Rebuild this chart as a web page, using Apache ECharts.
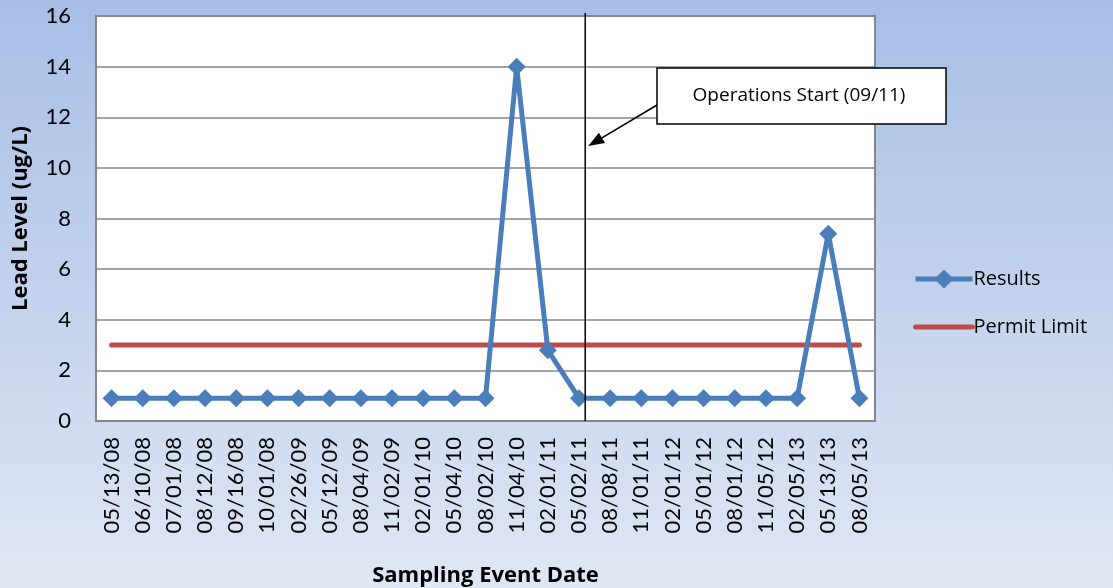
<!DOCTYPE html>
<html>
<head>
<meta charset="utf-8">
<script src="https://cdn.jsdelivr.net/npm/echarts@6/dist/echarts.min.js"></script>
<style>
  html, body { margin: 0; padding: 0; }
  #chart { width: 1113px; height: 588px; }
</style>
</head>
<body>
<div id="chart"></div>
<script>
const dates = ['05/13/08', '06/10/08', '07/01/08', '08/12/08', '09/16/08', '10/01/08', '02/26/09',
  '05/12/09', '08/04/09', '11/02/09', '02/01/10', '05/04/10', '08/02/10', '11/04/10', '02/01/11',
  '05/02/11', '08/08/11', '11/01/11', '02/01/12', '05/01/12', '08/01/12', '11/05/12', '02/05/13',
  '05/13/13', '08/05/13'];
const results = [0.9, 0.9, 0.9, 0.9, 0.9, 0.9, 0.9, 0.9, 0.9, 0.9, 0.9, 0.9, 0.9, 14, 2.8,
  0.9, 0.9, 0.9, 0.9, 0.9, 0.9, 0.9, 0.9, 7.4, 0.9];
const permitLimit = dates.map(() => 3);
const opsStartIndex = 15.2; // between 05/02/11 and 08/08/11

const font = 'Lato, "Open Sans", sans-serif';
const wideFont = '"Open Sans", Lato, sans-serif';
const chart = echarts.init(document.getElementById('chart'));

chart.setOption({
  backgroundColor: {
    type: 'linear', x: 0, y: 0, x2: 0, y2: 1,
    colorStops: [{offset: 0, color: '#a6bee6'}, {offset: 1, color: '#e0e7f4'}]
  },
  textStyle: {fontFamily: font},
  animation: false,
  grid: {
    left: 96, right: 238, top: 16, bottom: 167, outerBoundsMode: 'none',
    show: true, backgroundColor: '#fff', borderColor: '#868686', borderWidth: 2
  },
  legend: {
    orient: 'vertical', left: 913, top: 269, padding: 0,
    itemWidth: 57, itemHeight: 24, itemGap: 28,
    lineStyle: {width: 5},
    textStyle: {fontSize: 20, color: '#000', fontFamily: wideFont, padding: [0, 0, 0, -4]},
    data: ['Results', {name: 'Permit Limit', itemStyle: {opacity: 0}}]
  },
  xAxis: {
    type: 'category', data: dates,
    name: 'Sampling Event Date', nameLocation: 'middle', nameGap: 144,
    nameTextStyle: {fontSize: 22, fontWeight: 'bold', color: '#000', fontFamily: wideFont},
    axisLine: {show: false}, axisTick: {show: false},
    axisLabel: {rotate: 90, fontSize: 22, color: '#000', margin: 16, interval: 0}
  },
  yAxis: {
    type: 'value', min: 0, max: 16, interval: 2,
    name: 'Lead Level (ug/L)', nameLocation: 'middle', nameGap: 64,
    nameTextStyle: {fontSize: 22, fontWeight: 'bold', color: '#000', fontFamily: wideFont},
    axisLine: {show: false}, axisTick: {show: false},
    axisLabel: {fontSize: 22, color: '#000', margin: 25},
    splitLine: {lineStyle: {color: '#868686', width: 1.5}}
  },
  series: [
    {
      name: 'Results', type: 'line', data: results,
      symbol: 'diamond', symbolSize: 18,
      itemStyle: {color: '#4a7ebb'},
      lineStyle: {color: '#4a7ebb', width: 5}, z: 3
    },
    {
      name: 'Permit Limit', type: 'line', data: permitLimit,
      symbol: 'none',
      itemStyle: {color: '#be4b48'},
      lineStyle: {color: '#be4b48', width: 5, cap: 'round'}, z: 2
    }
  ]
});

// vertical "operations start" line, placed from the category axis
const p0 = chart.convertToPixel({xAxisIndex: 0}, 15);
const p1 = chart.convertToPixel({xAxisIndex: 0}, 16);
const lineX = p0 + (p1 - p0) * (opsStartIndex - 15);
const yTop = chart.convertToPixel({yAxisIndex: 0}, 16) - 3;
const yBottom = chart.convertToPixel({yAxisIndex: 0}, 0);

const tipX = lineX + 3, tipY = 146;
const startX = 657, startY = 105;
const ang = Math.atan2(tipY - startY, tipX - startX);
const headLen = 16, headW = 6;
const bx = tipX - headLen * Math.cos(ang), by = tipY - headLen * Math.sin(ang);
const nx = -Math.sin(ang) * headW, ny = Math.cos(ang) * headW;

chart.setOption({
  graphic: [
    {type: 'line', shape: {x1: lineX, y1: yTop, x2: lineX, y2: yBottom},
      style: {stroke: '#000', lineWidth: 1.5}, z: 10},
    {type: 'line', shape: {x1: startX, y1: startY, x2: bx, y2: by},
      style: {stroke: '#000', lineWidth: 1.5}, z: 10},
    {type: 'polygon', shape: {points: [[tipX, tipY], [bx + nx, by + ny], [bx - nx, by - ny]]},
      style: {fill: '#000'}, z: 10},
    {type: 'rect', shape: {x: 657, y: 68, width: 289, height: 56},
      style: {fill: '#fff', stroke: '#000', lineWidth: 1.5}, z: 10},
    {type: 'text', x: 799, y: 96,
      style: {text: 'Operations Start (09/11)', fontSize: 19, fontFamily: wideFont, fill: '#000',
        align: 'center', verticalAlign: 'middle'}, z: 11}
  ]
});
</script>
</body>
</html>
